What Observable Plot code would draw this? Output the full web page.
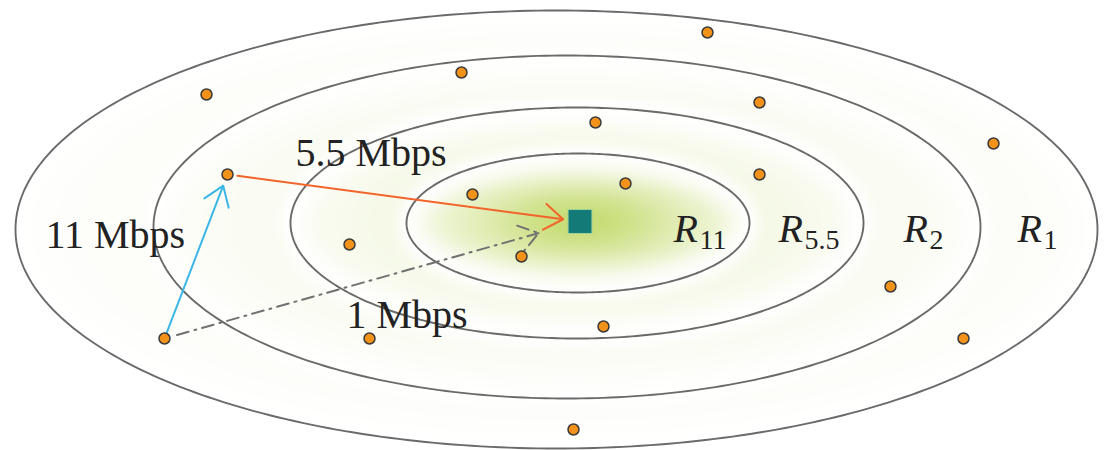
<!DOCTYPE html>
<html>
<head>
<meta charset="utf-8">
<script src="https://cdn.jsdelivr.net/npm/d3@7"></script>
<script src="https://cdn.jsdelivr.net/npm/@observablehq/plot@0.6"></script>
<style>
  html, body { margin: 0; padding: 0; background: #fff; }
  #chart svg { display: block; }
</style>
</head>
<body>
<div id="chart"></div>
<script>
// ---- data ----
const ringNames = ["R1", "R2", "R5.5", "R11"];
const ringCx = [556, 566.5, 576.5, 577.5];
const ringCy = [229, 226.5, 222.5, 222.5];
const ringRx = [541, 413.5, 286.5, 171.5];
const ringRy = [219, 171.5, 115.5, 69.5];

const nodeX = [707, 206, 461, 759, 595, 993, 227, 472, 625, 759, 349, 521, 890, 164, 369, 603, 963, 573];
const nodeY = [32, 94, 72, 102, 122, 143, 174, 194, 183, 174, 244, 256, 286, 338, 338, 326, 338, 429];

const apX = [579.5];
const apY = [221];

// links: from node index -> to (node index or "ap")
const linkFrom = [13, 6, 13];
const linkTo = [6, "ap", "ap"];
const linkColor = ["#3cb6e6", "#f2642a", "#707070"];
const linkDash = [null, null, "12,6,2,6"];
const linkInsetStart = [6, 10, 13];
const linkInsetEnd = [12, 17, 43];

const rateLabels = ["11 Mbps", "5.5 Mbps", "1 Mbps"];
const rateX = [45, 295, 346];
const rateY = [247, 165, 327];

const regionSubs = ["11", "5.5", "2", "1"];
const regionX = [673, 778, 903, 1017];
const regionY = [241, 241, 241, 241];

// ---- derived tables ----
const W = 1106, H = 450;
const ringPts = [];
ringNames.forEach((name, k) => {
  for (let i = 0; i < 360; i++) {
    const t = (i / 360) * 2 * Math.PI;
    ringPts.push({ring: name, x: ringCx[k] + ringRx[k] * Math.cos(t), y: ringCy[k] + ringRy[k] * Math.sin(t)});
  }
});
const nodes = nodeX.map((x, i) => ({x, y: nodeY[i]}));
const links = linkFrom.map((f, i) => {
  const to = linkTo[i];
  return {
    x1: nodeX[f], y1: nodeY[f],
    x2: to === "ap" ? apX[0] : nodeX[to],
    y2: to === "ap" ? apY[0] : nodeY[to],
    color: linkColor[i], dash: linkDash[i], is: linkInsetStart[i], ie: linkInsetEnd[i]
  };
});
const rates = rateLabels.map((t, i) => ({t, x: rateX[i], y: rateY[i]}));
const regions = regionSubs.map((s, i) => ({s, x: regionX[i], y: regionY[i]}));

// glow background
const G = [192, 216, 100];
function glow(x, y) {
  const dx = x - apX[0], dy = y - apY[0];
  const e = Math.sqrt((dx / 300) ** 2 + (dy / 120) ** 2);
  let I = 0.72 * Math.exp(-((e / 0.36) ** 2)) + 0.17 * Math.exp(-((e / 1.25) ** 2));
  let h = 0;
  for (let k = 0; k < ringRx.length; k++) {
    const ux = (x - ringCx[k]) / ringRx[k], uy = (y - ringCy[k]) / ringRy[k];
    const q = Math.sqrt(ux * ux + uy * uy) || 1e-6;
    const gx = ux / ringRx[k] / q, gy = uy / ringRy[k] / q;
    const d = (q - 1) / Math.hypot(gx, gy);
    const w = d < 0 ? 22 : 12;
    h = Math.max(h, Math.exp(-((d / w) ** 2)));
  }
  const q1 = Math.sqrt(((x - ringCx[0]) / ringRx[0]) ** 2 + ((y - ringCy[0]) / ringRy[0]) ** 2);
  if (q1 > 1) I *= 0.15;
  I = I * (1 - 0.9 * h);
  const r = Math.round(255 + (G[0] - 255) * I);
  const g = Math.round(255 + (G[1] - 255) * I);
  const b = Math.round(255 + (G[2] - 255) * I);
  return `rgb(${r},${g},${b})`;
}

const serif = "'Liberation Serif', 'DejaVu Serif', serif";

const chart = Plot.plot({
  width: W,
  height: H,
  margin: 0,
  style: {background: "#fff"},
  x: {domain: [0, W], range: [0, W], axis: null},
  y: {domain: [0, H], range: [0, H], axis: null},
  color: {type: "identity"},
  marks: [
    Plot.raster({fill: glow, x1: 0, x2: W, y1: 0, y2: H, width: W, height: H}),
    Plot.line(ringPts, {x: "x", y: "y", z: "ring", curve: "linear-closed", stroke: "#6a6a6a", strokeWidth: 1.9}),
    ...links.map(l => Plot.arrow([l], {
      x1: "x1", y1: "y1", x2: "x2", y2: "y2",
      stroke: l.color, strokeWidth: 2, headLength: 17, headAngle: 70,
      insetStart: l.is, insetEnd: l.ie,
      strokeDasharray: l.dash || undefined
    })),
    Plot.dot(nodes, {x: "x", y: "y", r: 5.5, fill: "#f39219", stroke: "#3a3a3a", strokeWidth: 1.5}),
    Plot.dot(apX.map((x, i) => ({x, y: apY[i]})), {x: "x", y: "y", symbol: "square", r: 13.5, fill: "#137a77", stroke: "#9fd39b", strokeWidth: 1}),
    Plot.text(rates, {x: "x", y: "y", text: "t", fontSize: 40, fontFamily: serif, fill: "#222", textAnchor: "start", lineAnchor: "bottom"}),
    Plot.text(regions, {x: "x", y: "y", text: () => "R", fontSize: 40, fontStyle: "italic", fontFamily: serif, fill: "#222", textAnchor: "start", lineAnchor: "bottom"}),
    Plot.text(regions, {x: "x", y: "y", dx: 26, dy: 7, text: "s", fontSize: 28, fontFamily: serif, fill: "#222", textAnchor: "start", lineAnchor: "bottom"})
  ]
});
document.getElementById("chart").appendChild(chart);
</script>
</body>
</html>
